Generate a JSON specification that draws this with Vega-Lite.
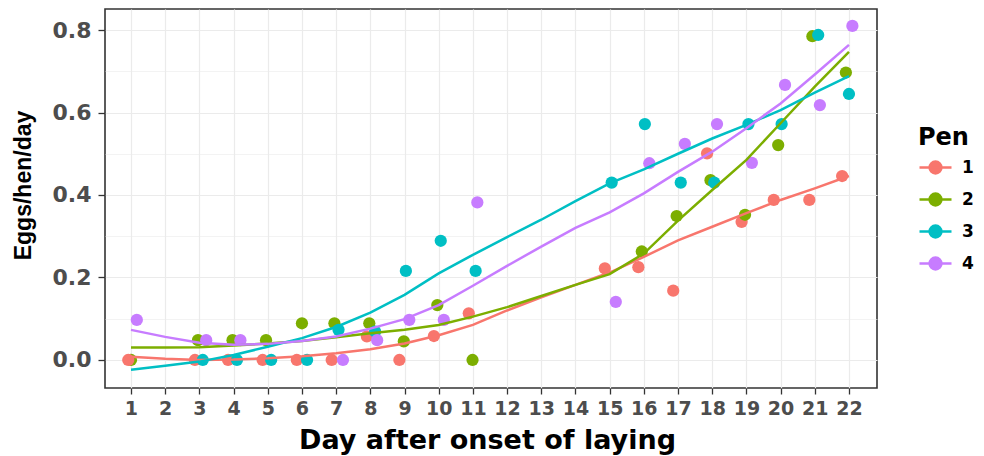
{
  "$schema": "https://vega.github.io/schema/vega-lite/v6.json",
  "width": 772,
  "height": 379,
  "autosize": {"type": "none"},
  "padding": {"left": 105, "top": 9, "right": 107, "bottom": 68},
  "background": "white",
  "config": {
    "view": {"stroke": "#333333", "strokeWidth": 1.6},
    "axis": {"labelFont": "DejaVu Sans", "titleFont": "DejaVu Sans"},
    "axisX": {"labelOverlap": false, "labelFlush": false}
  },
  "datasets": {
    "points": [
      {"pen": "2", "day": 1.0, "value": 0},
      {"pen": "1", "day": 0.92, "value": 0},
      {"pen": "1", "day": 2.87, "value": 0},
      {"pen": "1", "day": 3.84, "value": 0},
      {"pen": "1", "day": 4.85, "value": 0},
      {"pen": "1", "day": 5.85, "value": 0},
      {"pen": "1", "day": 6.87, "value": 0},
      {"pen": "1", "day": 7.9, "value": 0.057},
      {"pen": "1", "day": 8.85, "value": 0},
      {"pen": "1", "day": 9.86, "value": 0.058},
      {"pen": "1", "day": 10.88, "value": 0.113},
      {"pen": "1", "day": 14.86, "value": 0.222},
      {"pen": "1", "day": 15.84, "value": 0.225},
      {"pen": "1", "day": 16.86, "value": 0.168},
      {"pen": "1", "day": 17.85, "value": 0.501},
      {"pen": "1", "day": 18.86, "value": 0.335},
      {"pen": "1", "day": 19.8, "value": 0.388},
      {"pen": "1", "day": 20.84, "value": 0.388},
      {"pen": "1", "day": 21.8, "value": 0.446},
      {"pen": "2", "day": 2.96, "value": 0.048},
      {"pen": "2", "day": 3.97, "value": 0.048},
      {"pen": "2", "day": 4.95, "value": 0.048},
      {"pen": "2", "day": 6.0, "value": 0.089},
      {"pen": "2", "day": 6.95, "value": 0.089},
      {"pen": "2", "day": 7.97, "value": 0.089},
      {"pen": "2", "day": 8.98, "value": 0.045},
      {"pen": "2", "day": 9.96, "value": 0.133},
      {"pen": "2", "day": 10.99, "value": 0},
      {"pen": "2", "day": 15.94, "value": 0.263},
      {"pen": "2", "day": 16.96, "value": 0.349},
      {"pen": "2", "day": 17.95, "value": 0.436},
      {"pen": "2", "day": 18.96, "value": 0.352},
      {"pen": "2", "day": 19.93, "value": 0.521},
      {"pen": "2", "day": 20.93, "value": 0.785},
      {"pen": "2", "day": 21.91, "value": 0.697},
      {"pen": "3", "day": 3.1, "value": 0},
      {"pen": "3", "day": 4.1, "value": 0},
      {"pen": "3", "day": 5.1, "value": 0},
      {"pen": "3", "day": 6.15, "value": 0},
      {"pen": "3", "day": 7.07, "value": 0.073},
      {"pen": "3", "day": 8.14, "value": 0.069},
      {"pen": "3", "day": 9.04, "value": 0.216},
      {"pen": "3", "day": 10.06, "value": 0.289},
      {"pen": "3", "day": 11.08, "value": 0.216},
      {"pen": "3", "day": 15.06, "value": 0.43},
      {"pen": "3", "day": 16.03, "value": 0.572},
      {"pen": "3", "day": 17.08, "value": 0.43},
      {"pen": "3", "day": 18.06, "value": 0.43},
      {"pen": "3", "day": 19.06, "value": 0.572},
      {"pen": "3", "day": 20.03, "value": 0.572},
      {"pen": "3", "day": 21.1, "value": 0.788},
      {"pen": "3", "day": 22.0, "value": 0.645},
      {"pen": "4", "day": 1.17, "value": 0.097},
      {"pen": "4", "day": 3.2, "value": 0.048},
      {"pen": "4", "day": 4.2, "value": 0.048},
      {"pen": "4", "day": 7.2, "value": 0},
      {"pen": "4", "day": 8.2, "value": 0.048},
      {"pen": "4", "day": 9.14, "value": 0.097},
      {"pen": "4", "day": 10.15, "value": 0.097},
      {"pen": "4", "day": 11.13, "value": 0.382},
      {"pen": "4", "day": 15.18, "value": 0.141},
      {"pen": "4", "day": 16.16, "value": 0.477},
      {"pen": "4", "day": 17.2, "value": 0.524},
      {"pen": "4", "day": 18.14, "value": 0.572},
      {"pen": "4", "day": 19.16, "value": 0.478},
      {"pen": "4", "day": 20.13, "value": 0.667},
      {"pen": "4", "day": 21.15, "value": 0.618},
      {"pen": "4", "day": 22.1, "value": 0.81}
    ],
    "smooth": [
      {"pen": "1", "day": 1, "value": 0.008}, {"pen": "1", "day": 2, "value": 0.003}, {"pen": "1", "day": 3, "value": 0.0}, {"pen": "1", "day": 4, "value": 0.001}, {"pen": "1", "day": 5, "value": 0.004}, {"pen": "1", "day": 6, "value": 0.009}, {"pen": "1", "day": 7, "value": 0.016}, {"pen": "1", "day": 8, "value": 0.026}, {"pen": "1", "day": 9, "value": 0.04}, {"pen": "1", "day": 10, "value": 0.06}, {"pen": "1", "day": 11, "value": 0.085}, {"pen": "1", "day": 12, "value": 0.12}, {"pen": "1", "day": 13, "value": 0.152}, {"pen": "1", "day": 14, "value": 0.182}, {"pen": "1", "day": 15, "value": 0.212}, {"pen": "1", "day": 16, "value": 0.25}, {"pen": "1", "day": 17, "value": 0.29}, {"pen": "1", "day": 18, "value": 0.323}, {"pen": "1", "day": 19, "value": 0.356}, {"pen": "1", "day": 20, "value": 0.388}, {"pen": "1", "day": 21, "value": 0.416}, {"pen": "1", "day": 22, "value": 0.446},
      {"pen": "2", "day": 1, "value": 0.03}, {"pen": "2", "day": 2, "value": 0.03}, {"pen": "2", "day": 3, "value": 0.031}, {"pen": "2", "day": 4, "value": 0.035}, {"pen": "2", "day": 5, "value": 0.04}, {"pen": "2", "day": 6, "value": 0.046}, {"pen": "2", "day": 7, "value": 0.055}, {"pen": "2", "day": 8, "value": 0.065}, {"pen": "2", "day": 9, "value": 0.073}, {"pen": "2", "day": 10, "value": 0.085}, {"pen": "2", "day": 11, "value": 0.105}, {"pen": "2", "day": 12, "value": 0.128}, {"pen": "2", "day": 13, "value": 0.155}, {"pen": "2", "day": 14, "value": 0.182}, {"pen": "2", "day": 15, "value": 0.208}, {"pen": "2", "day": 16, "value": 0.258}, {"pen": "2", "day": 17, "value": 0.338}, {"pen": "2", "day": 18, "value": 0.412}, {"pen": "2", "day": 19, "value": 0.485}, {"pen": "2", "day": 20, "value": 0.574}, {"pen": "2", "day": 21, "value": 0.663}, {"pen": "2", "day": 22, "value": 0.747},
      {"pen": "3", "day": 1, "value": -0.024}, {"pen": "3", "day": 2, "value": -0.014}, {"pen": "3", "day": 3, "value": -0.004}, {"pen": "3", "day": 4, "value": 0.012}, {"pen": "3", "day": 5, "value": 0.032}, {"pen": "3", "day": 6, "value": 0.053}, {"pen": "3", "day": 7, "value": 0.08}, {"pen": "3", "day": 8, "value": 0.115}, {"pen": "3", "day": 9, "value": 0.158}, {"pen": "3", "day": 10, "value": 0.21}, {"pen": "3", "day": 11, "value": 0.255}, {"pen": "3", "day": 12, "value": 0.298}, {"pen": "3", "day": 13, "value": 0.34}, {"pen": "3", "day": 14, "value": 0.385}, {"pen": "3", "day": 15, "value": 0.428}, {"pen": "3", "day": 16, "value": 0.462}, {"pen": "3", "day": 17, "value": 0.5}, {"pen": "3", "day": 18, "value": 0.537}, {"pen": "3", "day": 19, "value": 0.57}, {"pen": "3", "day": 20, "value": 0.606}, {"pen": "3", "day": 21, "value": 0.648}, {"pen": "3", "day": 22, "value": 0.688},
      {"pen": "4", "day": 1, "value": 0.073}, {"pen": "4", "day": 2, "value": 0.056}, {"pen": "4", "day": 3, "value": 0.042}, {"pen": "4", "day": 4, "value": 0.037}, {"pen": "4", "day": 5, "value": 0.039}, {"pen": "4", "day": 6, "value": 0.046}, {"pen": "4", "day": 7, "value": 0.057}, {"pen": "4", "day": 8, "value": 0.076}, {"pen": "4", "day": 9, "value": 0.099}, {"pen": "4", "day": 10, "value": 0.133}, {"pen": "4", "day": 11, "value": 0.18}, {"pen": "4", "day": 12, "value": 0.228}, {"pen": "4", "day": 13, "value": 0.275}, {"pen": "4", "day": 14, "value": 0.32}, {"pen": "4", "day": 15, "value": 0.358}, {"pen": "4", "day": 16, "value": 0.404}, {"pen": "4", "day": 17, "value": 0.456}, {"pen": "4", "day": 18, "value": 0.505}, {"pen": "4", "day": 19, "value": 0.562}, {"pen": "4", "day": 20, "value": 0.622}, {"pen": "4", "day": 21, "value": 0.692}, {"pen": "4", "day": 22, "value": 0.764}
    ]
  },
  "layer": [
    {
      "data": {"name": "points"},
      "mark": {"type": "point", "filled": true, "size": 150, "opacity": 1},
      "encoding": {
        "x": {
          "field": "day", "type": "quantitative",
          "scale": {"domain": [0.24, 22.82], "nice": false, "zero": false},
          "axis": {
            "values": [1,2,3,4,5,6,7,8,9,10,11,12,13,14,15,16,17,18,19,20,21,22],
            "format": "d", "labelOverlap": false, "labelFlush": false,
            "grid": true, "gridColor": "#ebebeb", "gridWidth": 1.2,
            "domain": false, "tickColor": "#333333", "tickSize": 6, "tickWidth": 1.3,
            "labelFontSize": 19, "labelFontWeight": "bold", "labelColor": "#4d4d4d", "labelPadding": 5,
            "title": "Day after onset of laying", "titleFontSize": 27, "titleFontWeight": "bold", "titleColor": "#000000",
            "titleX": 382, "titleY": 60, "titleBaseline": "alphabetic", "titleAlign": "center"
          }
        },
        "y": {
          "field": "value", "type": "quantitative",
          "scale": {"domain": [-0.068, 0.851], "nice": false, "zero": false},
          "axis": {
            "orient": "left", "values": [0.1, 0.3, 0.5, 0.7], "grid": true, "gridColor": "#ebebeb", "gridWidth": 0.6,
            "labels": false, "ticks": false, "domain": false, "title": null
          }
        },
        "color": {
          "field": "pen", "type": "nominal",
          "scale": {"domain": ["1","2","3","4"], "range": ["#F8766D", "#7CAE00", "#00BFC4", "#C77CFF"]},
          "legend": {
            "orient": "none", "legendX": 813, "legendY": 117,
            "title": "Pen", "titleFont": "DejaVu Sans", "titleFontSize": 24, "titleFontWeight": "bold", "titleColor": "#000000", "titlePadding": 0,
            "labelFont": "DejaVu Sans", "labelFontSize": 17, "labelFontWeight": "bold", "labelColor": "#000000", "labelOffset": 9,
            "symbolType": "M-1,0H1M-0.37,0A0.37,0.37,0,1,0,0.37,0A0.37,0.37,0,1,0,-0.37,0Z",
            "symbolSize": 1024, "symbolStrokeWidth": 2.5, "rowPadding": 3, "padding": 0,
            "encoding": {"symbols": {"update": {"stroke": {"scale": "color", "field": "value"}, "fill": {"scale": "color", "field": "value"}, "opacity": {"value": 1}}}}
          }
        }
      }
    },
    {
      "data": {"name": "smooth"},
      "mark": {"type": "line", "strokeWidth": 2.5},
      "encoding": {
        "x": {
          "field": "day", "type": "quantitative",
          "axis": {
            "values": [1,2,3,4,5,6,7,8,9,10,11,12,13,14,15,16,17,18,19,20,21,22],
            "format": "d", "labelOverlap": false, "labelFlush": false,
            "grid": true, "gridColor": "#ebebeb", "gridWidth": 1.2,
            "domain": false, "tickColor": "#333333", "tickSize": 6, "tickWidth": 1.3,
            "labelFontSize": 19, "labelFontWeight": "bold", "labelColor": "#4d4d4d", "labelPadding": 5,
            "title": "Day after onset of laying", "titleFontSize": 27, "titleFontWeight": "bold", "titleColor": "#000000",
            "titleX": 382, "titleY": 60, "titleBaseline": "alphabetic", "titleAlign": "center"
          }
        },
        "y": {
          "field": "value", "type": "quantitative",
          "axis": {
            "orient": "left", "values": [0, 0.2, 0.4, 0.6, 0.8], "format": ".1f",
            "grid": true, "gridColor": "#ebebeb", "gridWidth": 1.2,
            "domain": false, "tickColor": "#333333", "tickSize": 7, "tickWidth": 1.3,
            "labelFontSize": 22, "labelFontWeight": "bold", "labelColor": "#4d4d4d", "labelPadding": 7,
            "title": "Eggs/hen/day", "titleFont": "Liberation Sans", "titleFontSize": 23, "titleFontWeight": "bold", "titleColor": "#000000",
            "titleX": -82, "titleY": 176, "titleAngle": -90, "titleAlign": "center", "titleBaseline": "middle"
          }
        },
        "color": {"field": "pen", "type": "nominal"}
      }
    }
  ],
  "resolve": {"axis": {"y": "independent"}}
}
